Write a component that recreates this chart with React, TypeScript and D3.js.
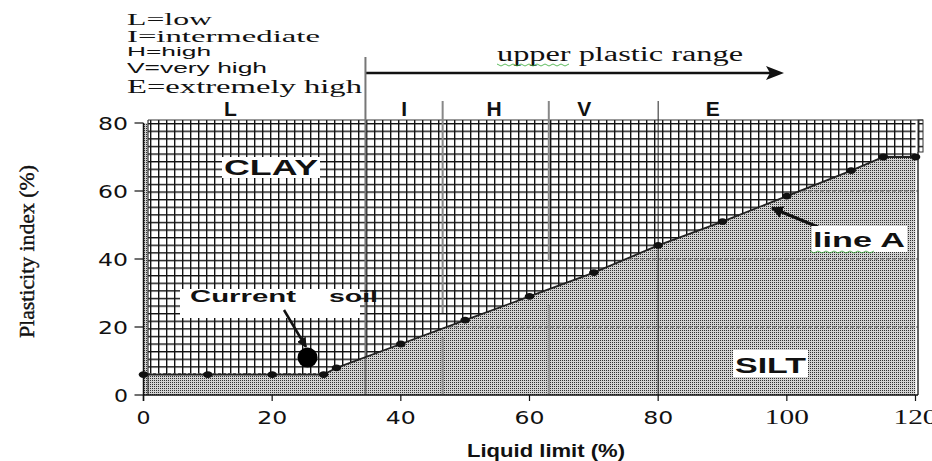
import React from "react";
import * as d3 from "d3";

// Line A: liquid limit (%) vs plasticity index (%)
const lineAX = [0, 10, 20, 28, 30, 40, 50, 60, 70, 80, 90, 100, 110, 115, 120];
const lineAY = [6, 6, 6, 6, 8, 15, 22, 29, 36, 44, 51, 58.5, 66, 70, 70];
const currentSoil = { ll: 25.5, pi: 11 };
const xTicks = [0, 20, 40, 60, 80, 100, 120];
const yTicks = [0, 20, 40, 60, 80];
const zoneBounds = [34.5, 46.5, 63, 80];
const zoneLetters = ["L", "I", "H", "V", "E"];
const zoneLetterX = [13.5, 40.5, 54.5, 68.5, 88.5];
const legendLines = ["L=low", "I=intermediate", "H=high", "V=very high", "E=extremely high"];
const dashedGrid = [20, 40, 60];

export default function App() {
  const x = d3.scaleLinear().domain([0, 120]).range([143.5, 915.5]);
  const y = d3.scaleLinear().domain([0, 80]).range([395, 123]);
  const pts = lineAX.map((v, i) => [v, lineAY[i]] as [number, number]);
  const line = d3.line<[number, number]>().x(d => x(d[0])).y(d => y(d[1]));
  const top = y(80) - 3;
  const gridArea = d3.area<[number, number]>().x(d => x(d[0])).y0(top).y1(d => y(d[1]));
  const stipArea = d3.area<[number, number]>().x(d => x(d[0])).y0(y(0)).y1(d => y(d[1]));
  const left = 148, right = 918;
  const sans = "Liberation Sans, Arial, sans-serif";
  const serif = "Liberation Serif, Times New Roman, serif";
  const legendY = [25, 42, 56, 73, 93];
  const legendFont = [serif, serif, sans, sans, serif];
  const legendSize = [17, 16, 13, 14, 18];
  const legendLen = [85, 193, 84, 140, 235];

  return (
    <svg width={932} height={461} style={{ position: "absolute", left: 0, top: 0, background: "#fff" }}>
      <defs>
        <pattern id="grid" patternUnits="userSpaceOnUse" x={150} y={123} width={8} height={7.6}>
          <rect width={8} height={7.6} fill="#fff" />
          <line x1={0.7} y1={0} x2={0.7} y2={7.6} stroke="#111" strokeWidth={1.4} />
          <line x1={0} y1={0.7} x2={8} y2={0.7} stroke="#111" strokeWidth={1.4} />
        </pattern>
        <pattern id="stip" patternUnits="userSpaceOnUse" width={2} height={2}>
          <rect width={2} height={2} fill="#d2d2d2" />
          <rect width={1} height={1} fill="#303030" />
        </pattern>
        <clipPath id="plotClip">
          <rect x={left} y={0} width={right - left} height={400} />
        </clipPath>
        <marker id="ah" viewBox="0 0 10 10" refX={9} refY={5} markerWidth={4} markerHeight={4} orient="auto">
          <path d="M0,0 L10,5 L0,10 z" fill="#111" />
        </marker>
      </defs>

      {/* legend text */}
      {legendLines.map((t, i) => (
        <text key={t} x={127} y={legendY[i]} fontFamily={legendFont[i]} fontSize={legendSize[i]} fill="#111"
          textLength={legendLen[i]} lengthAdjust="spacingAndGlyphs">{t}</text>
      ))}

      {/* upper plastic range arrow */}
      <line x1={x(zoneBounds[0])} y1={73} x2={770} y2={73} stroke="#111" strokeWidth={2.5} />
      <path d="M784,73 L766,66 L770,73 L766,80 z" fill="#111" />
      <text x={497} y={61} fontFamily={serif} fontSize={20} fill="#111" textLength={246} lengthAdjust="spacingAndGlyphs">upper plastic range</text>
      <path d={d3.range(0, 19).map(i => `${i === 0 ? "M" : "L"}${497 + i * 4},${i % 2 ? 66 : 64}`).join(" ")} fill="none" stroke="#3a3" strokeWidth={0.8} />

      {/* left stipple strip */}
      <rect x={x(0)} y={y(80)} width={left - x(0)} height={y(0) - y(80)} fill="url(#stip)" />
      {/* stipple under line A */}
      <path d={stipArea(pts) || ""} fill="url(#stip)" clipPath="url(#plotClip)" />
      {/* dashed grid lines visible in shaded region */}
      {dashedGrid.map(g => (
        <line key={g} x1={left} x2={right} y1={y(g)} y2={y(g)} stroke="#666" strokeWidth={1} strokeDasharray="4,2" />
      ))}
      {/* grid above line A */}
      <path d={gridArea(pts) || ""} fill="url(#grid)" clipPath="url(#plotClip)" />
      <rect x={right} y={top} width={5} height={152 - top} fill="url(#grid)" stroke="#333" strokeWidth={1} />
      <line x1={left} x2={left + 180} y1={y(6) - 1} y2={y(6) - 1} stroke="#555" strokeWidth={1} strokeDasharray="3,2" />

      {/* plot border */}
      <line x1={left} y1={top} x2={left} y2={y(0)} stroke="#333" strokeWidth={1.2} />
      <line x1={left} y1={top} x2={923} y2={top} stroke="#333" strokeWidth={1.2} />
      <line x1={right} y1={152} x2={right} y2={y(0)} stroke="#333" strokeWidth={1.5} />

      {/* zone boundaries */}
      <line x1={x(zoneBounds[0])} y1={57} x2={x(zoneBounds[0])} y2={y(0)} stroke="#777" strokeWidth={2} />
      <line x1={x(zoneBounds[1])} y1={101} x2={x(zoneBounds[1])} y2={y(0) - 82} stroke="#888" strokeWidth={2} />
      <line x1={x(zoneBounds[1])} y1={y(0) - 58} x2={x(zoneBounds[1])} y2={y(0)} stroke="#888" strokeWidth={2} />
      <line x1={x(zoneBounds[2])} y1={101} x2={x(zoneBounds[2])} y2={262} stroke="#888" strokeWidth={2} />
      <line x1={x(zoneBounds[2])} y1={305} x2={x(zoneBounds[2])} y2={y(0)} stroke="#888" strokeWidth={2} />
      <line x1={x(zoneBounds[3])} y1={101} x2={x(zoneBounds[3])} y2={y(0)} stroke="#222" strokeWidth={1} />

      {zoneLetters.map((t, i) => (
        <text key={t} x={x(zoneLetterX[i])} y={116} textAnchor="middle" fontFamily={sans} fontWeight="bold" fontSize={21} fill="#111">{t}</text>
      ))}

      {/* line A */}
      <path d={line(pts) || ""} fill="none" stroke="#222" strokeWidth={1.8} />
      {pts.map((p, i) => (
        <ellipse key={i} cx={x(p[0])} cy={y(p[1])} rx={4.8} ry={3.4} fill="#111" />
      ))}

      {/* current soil */}
      <circle cx={x(currentSoil.ll)} cy={y(currentSoil.pi)} r={10} fill="#000" />
      <rect x={180} y={289} width={180} height={29} fill="#fff" />
      <text x={190} y={302} fontFamily={sans} fontWeight="bold" fontSize={17} fill="#111" textLength={106} lengthAdjust="spacingAndGlyphs">Current</text>
      <text x={329} y={302} fontFamily={sans} fontWeight="bold" fontSize={17} fill="#111" textLength={49} lengthAdjust="spacingAndGlyphs">soil</text>
      <line x1={284} y1={310} x2={306} y2={347} stroke="#111" strokeWidth={2.5} markerEnd="url(#ah)" />

      {/* CLAY */}
      <rect x={222} y={157} width={98} height={21} fill="#fff" />
      <text x={224} y={175} fontFamily={sans} fontWeight="bold" fontSize={22} fill="#111" textLength={94} lengthAdjust="spacingAndGlyphs">CLAY</text>

      {/* line A label */}
      <line x1={818} y1={227} x2={772} y2={208} stroke="#111" strokeWidth={3} markerEnd="url(#ah)" />
      <rect x={812} y={226} width={95} height={26} fill="#fff" />
      <text x={813} y={247} fontFamily={sans} fontWeight="bold" fontSize={21} fill="#111" textLength={92} lengthAdjust="spacingAndGlyphs">line A</text>
      <path d={d3.range(0, 17).map(i => `${i === 0 ? "M" : "L"}${810 + i * 4},${i % 2 ? 253 : 251}`).join(" ")} fill="none" stroke="#3a3" strokeWidth={0.8} />

      {/* SILT */}
      <rect x={733} y={350} width={75} height={27} fill="#fff" />
      <text x={735} y={373} fontFamily={sans} fontWeight="bold" fontSize={22} fill="#111" textLength={71} lengthAdjust="spacingAndGlyphs">SILT</text>

      {/* axes */}
      <line x1={x(0)} y1={y(80)} x2={x(0)} y2={y(0) + 6} stroke="#111" strokeWidth={1.5} />
      <line x1={x(0)} y1={y(0)} x2={right} y2={y(0)} stroke="#111" strokeWidth={1.5} />
      {yTicks.map(t => (
        <g key={t}>
          <line x1={x(0) - 9} x2={x(0)} y1={y(t)} y2={y(t)} stroke="#111" strokeWidth={1.2} />
          <text x={128} y={y(t) + 7} textAnchor="end" fontFamily="DejaVu Sans, sans-serif" fontSize={18} fill="#111"
            textLength={t === 0 ? 14 : 30} lengthAdjust="spacingAndGlyphs">{t}</text>
        </g>
      ))}
      {xTicks.map(t => (
        <g key={t}>
          <line x1={x(t)} x2={x(t)} y1={y(0)} y2={y(0) + 6} stroke="#111" strokeWidth={1.2} />
          <text x={x(t)} y={424} textAnchor="middle" fontFamily={t >= 100 ? serif : "DejaVu Sans, sans-serif"} fontSize={t >= 100 ? 20 : 18} fill="#111"
            textLength={t === 0 ? 14 : t >= 100 ? 44 : 30} lengthAdjust="spacingAndGlyphs">{t}</text>
        </g>
      ))}

      <text transform="translate(34,251.5) rotate(-90)" textAnchor="middle" fontFamily={serif} fontSize={22} fill="#111"
        stroke="#111" strokeWidth={0.4} textLength={173} lengthAdjust="spacingAndGlyphs">Plasticity index (%)</text>
      <text x={546} y={457} textAnchor="middle" fontFamily={sans} fontWeight="bold" fontSize={18} fill="#111"
        textLength={158} lengthAdjust="spacingAndGlyphs">Liquid limit (%)</text>
    </svg>
  );
}
